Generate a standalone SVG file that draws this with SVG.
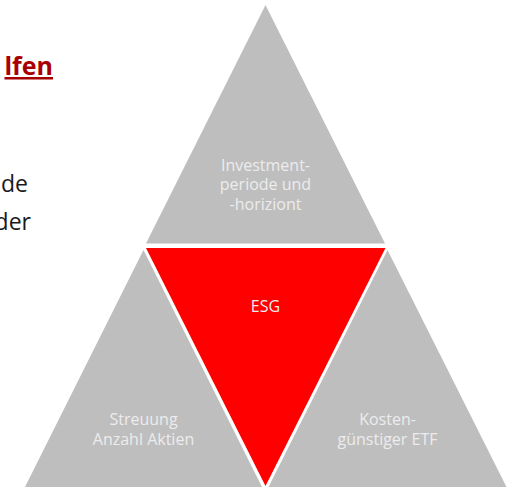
<svg xmlns="http://www.w3.org/2000/svg" width="509" height="487" viewBox="0 0 509 487">
<style>
.tri{fill:#bebebe}
.red{fill:#ff0000}
.lbl{font-family:"Open Sans","Noto Sans",sans-serif;font-size:16px;fill:#ececec;text-anchor:middle}
.body{font-family:"Open Sans","Noto Sans",sans-serif;font-size:23px;fill:#1a1a1a;text-anchor:end}
.head{font-family:"Open Sans","Noto Sans",sans-serif;font-size:25px;font-weight:bold;fill:#a80000;text-anchor:end;text-decoration:underline}
</style>
<rect width="509" height="487" fill="#ffffff"/>
<text class="head" x="53" y="75">lfen</text>
<text class="body" x="28" y="191.5">de</text>
<text class="body" x="31" y="230">der</text>
<g id="top">
<polygon class="tri" points="265.5,5 146,243.5 385,243.5"/>
<text class="lbl" x="265.5" y="170.5">Investment-</text>
<text class="lbl" x="265.5" y="190">periode und</text>
<text class="lbl" x="265.5" y="209.5">-horiziont</text>
</g>
<g id="esg">
<polygon class="red" points="146,248 385.5,248 265.5,486"/>
<text class="lbl" x="265.5" y="312">ESG</text>
</g>
<g id="left">
<polygon class="tri" points="143.5,250 25,487 262,487"/>
<text class="lbl" x="143.5" y="425">Streuung</text>
<text class="lbl" x="143.5" y="444.5">Anzahl Aktien</text>
</g>
<g id="right">
<polygon class="tri" points="387.5,250 268.5,487 506.5,487"/>
<text class="lbl" x="387.5" y="425">Kosten-</text>
<text class="lbl" x="387.5" y="444.5">günstiger ETF</text>
</g>
<g id="connectors"/>
</svg>
